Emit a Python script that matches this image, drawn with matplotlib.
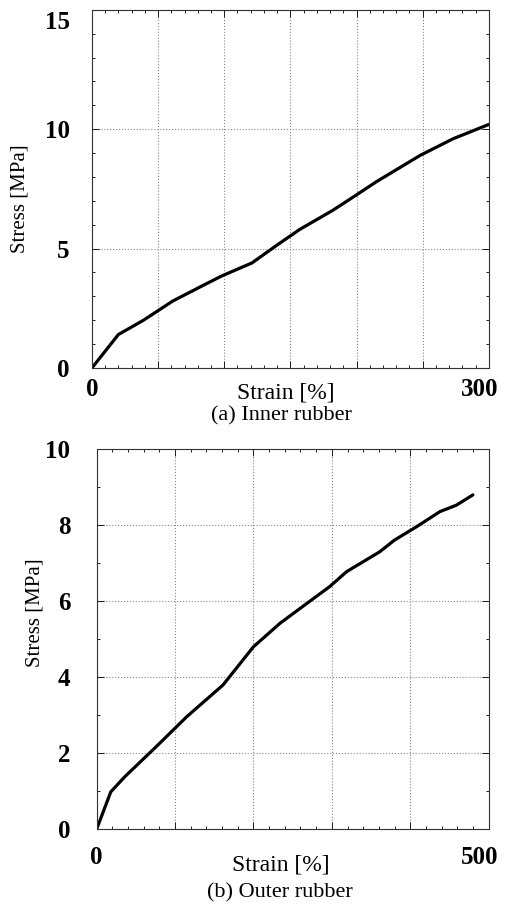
import numpy as np
import matplotlib.pyplot as plt
import matplotlib.transforms as mtransforms
from matplotlib.ticker import MultipleLocator, FuncFormatter

plt.rcParams['font.family'] = ['Liberation Serif', 'DejaVu Serif']

# (a) inner rubber
inner_strain = [0, 20, 39, 61, 82, 98, 121, 140, 157, 182, 200, 215, 248, 273, 300]
inner_stress = [0, 1.4, 2.0, 2.8, 3.4, 3.85, 4.4, 5.15, 5.8, 6.6, 7.25, 7.8, 8.9, 9.6, 10.2]

# (b) outer rubber
outer_strain = [0, 18, 36, 76, 115, 161, 178, 200, 234, 268, 297, 319, 361, 380, 408, 438, 459, 480]
outer_stress = [0, 0.98, 1.38, 2.17, 2.96, 3.79, 4.23, 4.8, 5.42, 5.94, 6.38, 6.78, 7.3, 7.61,
                7.96, 8.36, 8.53, 8.8]

fig = plt.figure(figsize=(5.05, 9.09), dpi=100)
ax1 = fig.add_axes([0.182, 0.5952, 0.786, 0.394])
ax2 = fig.add_axes([0.1915, 0.088, 0.776, 0.4177])


def style(ax, xmax, xmaj, xmin, ymax, ymaj, ymin, xpad, ypad):
    ax.set_xlim(0, xmax)
    ax.set_ylim(0, ymax)
    ax.xaxis.set_major_locator(MultipleLocator(xmaj))
    ax.xaxis.set_minor_locator(MultipleLocator(xmin))
    ax.yaxis.set_major_locator(MultipleLocator(ymaj))
    ax.yaxis.set_minor_locator(MultipleLocator(ymin))
    ax.xaxis.set_major_formatter(FuncFormatter(
        lambda v, p: '%d' % v if abs(v) < 1e-6 or abs(v - xmax) < 1e-6 else ''))
    ax.tick_params(which='both', direction='in', top=True, right=True, width=0.6)
    ax.tick_params(which='major', length=5)
    ax.tick_params(which='minor', length=2.5)
    ax.tick_params(axis='x', which='major', pad=xpad, labelsize=18)
    ax.tick_params(axis='y', which='major', pad=ypad, labelsize=18)
    for lab in ax.get_xticklabels() + ax.get_yticklabels():
        lab.set_fontweight('bold')
    ax.grid(True, which='major', linestyle=':', color='#888888', linewidth=0.8)
    for s in ax.spines.values():
        s.set_linewidth(0.8)
        s.set_color('#333333')
    # last x label sits left of the right edge
    last = ax.get_xticklabels()[-1]
    for lab in ax.get_xticklabels():
        if lab.get_text() == '%d' % xmax:
            last = lab
    last.set_ha('right')
    last.set_transform(last.get_transform() +
                       mtransforms.ScaledTranslation(10 / 100, 0, fig.dpi_scale_trans))


ax1.plot(inner_strain, inner_stress, color='black', linewidth=2.3, solid_capstyle='round')
style(ax1, 300, 50, 10, 15, 5, 1, 7, 16)
ax1.set_xlabel('Strain [%]', fontsize=17)
ax1.set_ylabel('Stress [MPa]', fontsize=15)
ax1.xaxis.set_label_coords(0.489, -0.070)
ax1.yaxis.set_label_coords(-0.181, 0.472)
ax1.xaxis.label.set_va('center')
ax1.yaxis.label.set_va('center')

ax2.plot(outer_strain, outer_stress, color='black', linewidth=2.3, solid_capstyle='round')
style(ax2, 500, 100, 20, 10, 2, 1, 12, 19)
ax2.set_xlabel('Strain [%]', fontsize=17)
ax2.set_ylabel('Stress [MPa]', fontsize=15)
ax2.xaxis.set_label_coords(0.47, -0.095)
ax2.yaxis.set_label_coords(-0.157, 0.571)
ax2.xaxis.label.set_va('center')
ax2.yaxis.label.set_va('center')

fig.canvas.draw()
for lab in ax1.get_xticklabels():
    pass
for lab in ax1.get_yticklabels():
    if lab.get_text() == '15':
        lab.set_transform(lab.get_transform() +
                          mtransforms.ScaledTranslation(0, -10 / 100, fig.dpi_scale_trans))

fig.text(281 / 505, 1 - 416 / 909, '(a) Inner rubber', fontsize=16, ha='center', va='center')
fig.text(280 / 505, 1 - 893 / 909, '(b) Outer rubber', fontsize=16, ha='center', va='center')

fig.savefig('out.png', dpi=100)
